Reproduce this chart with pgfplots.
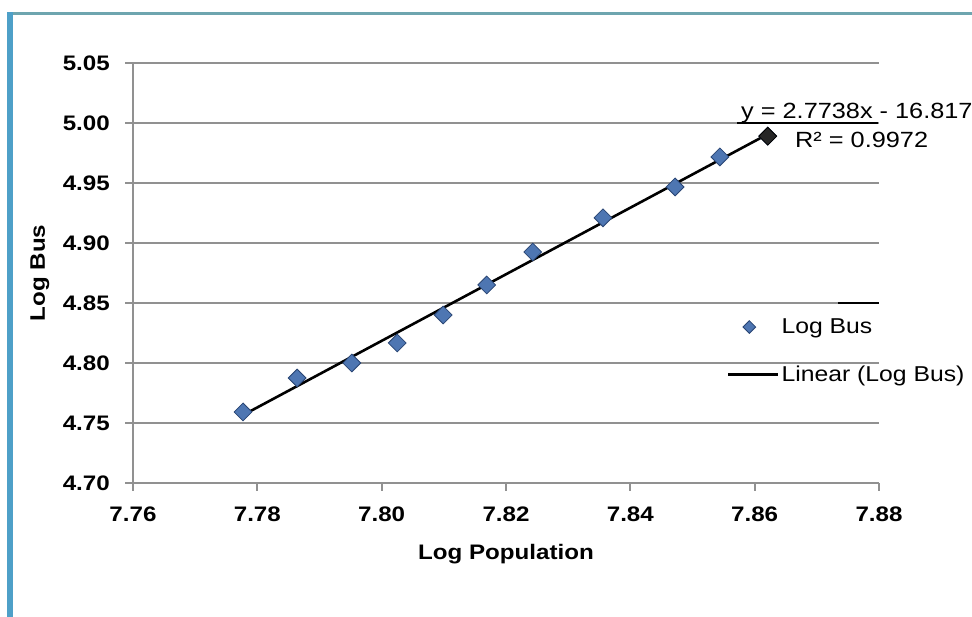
\documentclass[border=0pt]{standalone}
\usepackage{pgfplots}
\pgfplotsset{compat=1.18}
\usepackage{fontspec}
\setmainfont{Liberation Sans}[FakeStretch=1.15]

\definecolor{gridgray}{RGB}{145,145,145}
\definecolor{busfill}{RGB}{78,118,178}
\definecolor{busdraw}{RGB}{40,68,115}
\definecolor{framebar}{RGB}{78,160,200}
\definecolor{frametop}{RGB}{110,165,175}

% Log population vs. log bus count
\pgfplotstableread{
x       y
7.7777  4.7592
7.7864  4.7875
7.7952  4.8000
7.8025  4.8167
7.8099  4.8400
7.8169  4.8650
7.8243  4.8925
7.8356  4.9210
7.8472  4.9467
7.8544  4.9717
7.8621  4.9890
}\busdata

\begin{document}
\begin{tikzpicture}[x=1pt,y=1pt]
\useasboundingbox (0,0) rectangle (972,617);
\fill[white] (0,0) rectangle (972,617);
% outer frame
\draw[frametop, line width=3pt] (8,603) -- (972,603);
\draw[framebar, line width=6pt] (10,0) -- (10,605);

\begin{axis}[
  at={(133pt,134pt)}, anchor=south west,
  scale only axis, width=746pt, height=420pt,
  xmin=7.76, xmax=7.88, ymin=4.70, ymax=5.05,
  xtick={7.76,7.78,7.80,7.82,7.84,7.86,7.88},
  ytick={4.70,4.75,4.80,4.85,4.90,4.95,5.00,5.05},
  axis x line=bottom, axis y line=left,
  axis line style={-, gridgray, line width=2.5pt},
  ymajorgrids, grid style={gridgray, line width=2.5pt},
  tick align=outside, major tick length=8pt,
  tick style={gridgray, line width=2pt},
  ticklabel style={font=\bfseries\fontsize{21}{25}\selectfont},
  /pgf/number format/.cd, fixed, fixed zerofill, precision=2, assume math mode=true,
  /pgfplots/.cd,
  xticklabel style={anchor=base, yshift=-31pt},
  yticklabel style={anchor=east, inner sep=0pt, xshift=-15pt},
  xlabel={Log Population}, ylabel={Log Bus},
  label style={font=\bfseries\fontsize{21}{25}\selectfont},
  xlabel style={at={(axis description cs:0.5,-0.170)}, anchor=center},
  ylabel style={at={(axis description cs:-0.1247,0.5)}, anchor=center},
  legend style={at={(0.796,0.396)}, anchor=north west, draw=none, fill=none,
    font=\fontsize{21.5}{25}\selectfont, row sep=27pt, inner sep=0pt,
    nodes={inner sep=2pt}},
  legend cell align=left,
  clip=false,
]
\addplot[only marks, mark=square*, mark size=6.3pt,
  mark options={rotate=45, fill=busfill, draw=busdraw, line width=0.8pt},
  legend image code/.code={\path (0pt,0pt) (50pt,0pt);
    \draw[mark size=4.5pt] plot coordinates {(21pt,0pt)};}]
  table[x=x, y=y] {\busdata};
\addlegendentry{Log Bus}
\addplot[only marks, mark=square*, mark size=6.3pt, forget plot,
  mark options={rotate=45, fill=black!85, draw=black, line width=0.8pt}]
  coordinates {(7.8621,4.9890)};
% least-squares trend line y = 2.7738x - 16.817
\addplot[black, line width=2.6pt,
  legend image code/.code={\draw (0pt,0pt) -- (50pt,0pt);}]
  coordinates {(7.7777,4.7566) (7.8621,4.9907)};
\addlegendentry{Linear (Log Bus)}
\end{axis}

% short dark segments on the gridlines at the right
\draw[black, line width=2.5pt] (737,494) -- (878,494);
\draw[black, line width=2.5pt] (838,314) -- (879,314);

% trend line equation
\node[anchor=base west, inner sep=0pt, font=\fontsize{22}{26}\selectfont]
  at (741,498) {y = 2.7738x - 16.817};
\node[anchor=base west, inner sep=0pt, font=\fontsize{22}{26}\selectfont]
  at (795,469) {R² = 0.9972};
\end{tikzpicture}
\end{document}
